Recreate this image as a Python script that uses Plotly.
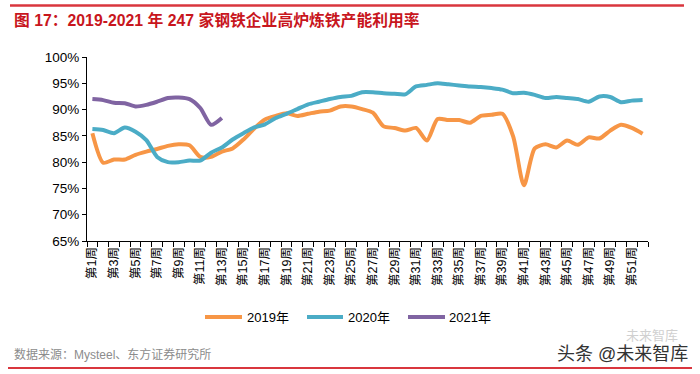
import plotly.graph_objects as go

weeks = ["第%d周" % i for i in range(1, 53)]

y2019 = [85.5, 79.9, 80.5, 80.5, 81.4, 82.0, 82.5, 83.1, 83.4, 83.2,
         81.0, 81.0, 82.0, 82.6, 84.3, 86.4, 88.1, 88.8, 89.3, 88.8,
         89.2, 89.6, 89.8, 90.6, 90.6, 90.1, 89.4, 86.8, 86.5, 86.0,
         86.5, 84.1, 88.2, 88.0, 88.0, 87.5, 88.8, 89.0, 89.2, 84.9,
         75.6, 82.6, 83.4, 82.8, 84.1, 83.3, 84.7, 84.5, 86.0, 87.1,
         86.5, 85.4]
y2020 = [86.3, 86.1, 85.5, 86.6, 85.8, 84.2, 81.0, 80.0, 80.0, 80.3,
         80.3, 81.8, 82.8, 84.3, 85.5, 86.6, 87.2, 88.4, 89.2, 90.1,
         91.0, 91.5, 92.0, 92.4, 92.6, 93.3, 93.3, 93.1, 93.0, 92.9,
         94.4, 94.7, 95.0, 94.8, 94.6, 94.4, 94.3, 94.1, 93.8, 93.1,
         93.2, 92.8, 92.2, 92.4, 92.2, 92.0, 91.5, 92.5, 92.4, 91.4,
         91.7, 91.8]
y2021 = [92.0, 91.8, 91.3, 91.2, 90.6, 90.9, 91.5, 92.2, 92.3, 92.0,
         90.3, 87.1, 88.4]

series_names = ["2019年", "2020年", "2021年"]
series_colors = ["#F79646", "#4BACC6", "#8064A2"]
series_values = [y2019, y2020, y2021]

y_ticks = [65, 70, 75, 80, 85, 90, 95, 100]

FONT = "Liberation Sans, Arial, Noto Sans CJK SC, sans-serif"

# plot area in pixels
L, R, T, B = 87, 648, 57, 241
W, H = 700, 374


def px(x):
    return (x - L) / (R - L)


def py(y):
    return (B - y) / (B - T)


fig = go.Figure()
for name, color, vals in zip(series_names, series_colors, series_values):
    fig.add_trace(go.Scatter(
        x=weeks[:len(vals)], y=vals, name=name, mode="lines",
        line=dict(color=color, width=4, shape="spline", smoothing=0.7),
        showlegend=False,
    ))

ticktext = [w if i % 2 == 0 else "" for i, w in enumerate(weeks)]

fig.update_layout(
    width=W, height=H,
    margin=dict(l=L, r=W - R, t=T, b=H - B, pad=0),
    paper_bgcolor="white", plot_bgcolor="white",
    font=dict(family=FONT, color="#000000"),
    xaxis=dict(
        type="category", categoryorder="array", categoryarray=weeks,
        tickmode="array", tickvals=weeks, ticktext=ticktext,
        tickson="boundaries", ticks="outside", ticklen=5, tickcolor="#000",
        tickwidth=1, tickangle=-90, tickfont=dict(size=12.5, family=FONT, color="#000"),
        showline=True, linecolor="#000", linewidth=1, showgrid=False,
        zeroline=False, range=[-0.5, 51.5],
    ),
    yaxis=dict(
        range=[65, 100], tickvals=y_ticks, ticktext=["%d%%" % v for v in y_ticks],
        ticks="outside", ticklen=4, tickcolor="#000", tickwidth=1,
        tickfont=dict(size=13.5, family=FONT, color="#000"),
        showline=True, linecolor="#000", linewidth=1, showgrid=False,
        zeroline=False,
    ),
)

shapes = []
annotations = []

# top and bottom red rules
shapes.append(dict(type="line", xref="paper", yref="paper",
                   x0=px(10), x1=px(684), y0=py(5.5), y1=py(5.5),
                   line=dict(color="#D9363E", width=2.5)))
shapes.append(dict(type="line", xref="paper", yref="paper",
                   x0=px(8), x1=px(692), y0=py(368), y1=py(368),
                   line=dict(color="#D9363E", width=2)))

# title
annotations.append(dict(
    text="<b>图 17：2019-2021 年 247 家钢铁企业高炉炼铁产能利用率</b>",
    xref="paper", yref="paper", x=px(12), y=py(20), xanchor="left", yanchor="middle",
    showarrow=False, font=dict(size=15.8, color="#C8161D", family=FONT)))

# legend
leg_items = [(205, 242, 245), (307, 343, 346), (408, 445, 447)]
for (x0, x1, tx), name, color in zip(leg_items, series_names, series_colors):
    shapes.append(dict(type="line", xref="paper", yref="paper",
                       x0=px(x0), x1=px(x1), y0=py(317), y1=py(317),
                       line=dict(color=color, width=4)))
    annotations.append(dict(text=name, xref="paper", yref="paper",
                            x=px(tx), y=py(317), xanchor="left", yanchor="middle",
                            showarrow=False, font=dict(size=13, color="#000", family=FONT)))

# source note
annotations.append(dict(
    text="数据来源：Mysteel、东方证券研究所",
    xref="paper", yref="paper", x=px(12), y=py(354), xanchor="left", yanchor="middle",
    showarrow=False, font=dict(size=12, color="#8C8C8C", family=FONT)))

# watermark
annotations.append(dict(
    text="未来智库", xref="paper", yref="paper", x=px(652), y=py(335),
    xanchor="center", yanchor="middle", showarrow=False,
    font=dict(size=13, color="#D0D0D0", family=FONT)))
annotations.append(dict(
    text="头条 @未来智库", xref="paper", yref="paper", x=px(690), y=py(354),
    xanchor="right", yanchor="middle", showarrow=False,
    font=dict(size=18, color="#333333", family=FONT)))

fig.update_layout(shapes=shapes, annotations=annotations)

fig.write_html(
    "out.html",
    config={"displayModeBar": False},
    post_script="document.body.style.margin='0';document.body.style.padding='0';",
)
